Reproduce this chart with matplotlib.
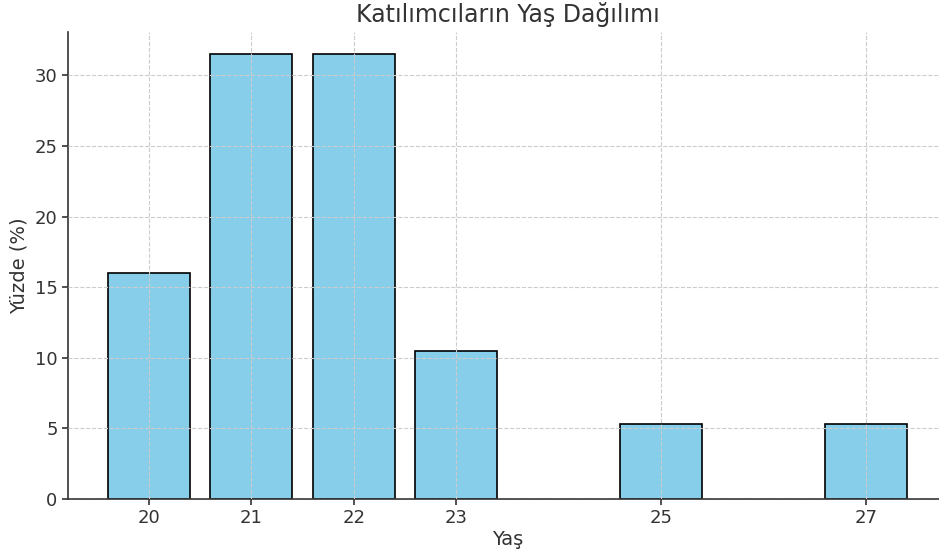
import matplotlib
matplotlib.use("Agg")
import matplotlib.pyplot as plt

ages = [20, 21, 22, 23, 25, 27]
percent = [16.0, 31.5, 31.5, 10.5, 5.3, 5.3]

TXT = "#333333"
plt.rcParams["font.family"] = "DejaVu Sans"

fig = plt.figure(figsize=(9.39, 5.56), dpi=100)
ax = fig.add_axes([68 / 939, 57 / 556, 879 / 939, 467 / 556])

ax.bar(ages, percent, width=0.8, color="skyblue", edgecolor="black", linewidth=1.2, zorder=1)
ax.grid(True, linestyle="--", color="#cccccc", linewidth=0.8, zorder=3)
ax.set_axisbelow(False)

ax.set_xticks(ages)
ax.set_xticklabels([str(a) for a in ages])
ax.tick_params(colors=TXT, labelsize=13, width=1.2, length=4)
ax.set_yticks([0, 5, 10, 15, 20, 25, 30])

ax.set_title("Katılımcıların Yaş Dağılımı", fontsize=17, color=TXT, pad=7)
ax.set_xlabel("Yaş", fontsize=14, color=TXT, labelpad=2)
ax.set_ylabel("Yüzde (%)", fontsize=14, color=TXT, labelpad=4)

for s in ["top", "right"]:
    ax.spines[s].set_visible(False)
for s in ["left", "bottom"]:
    ax.spines[s].set_color(TXT)
    ax.spines[s].set_linewidth(1.2)

fig.savefig("out.png", dpi=100)
